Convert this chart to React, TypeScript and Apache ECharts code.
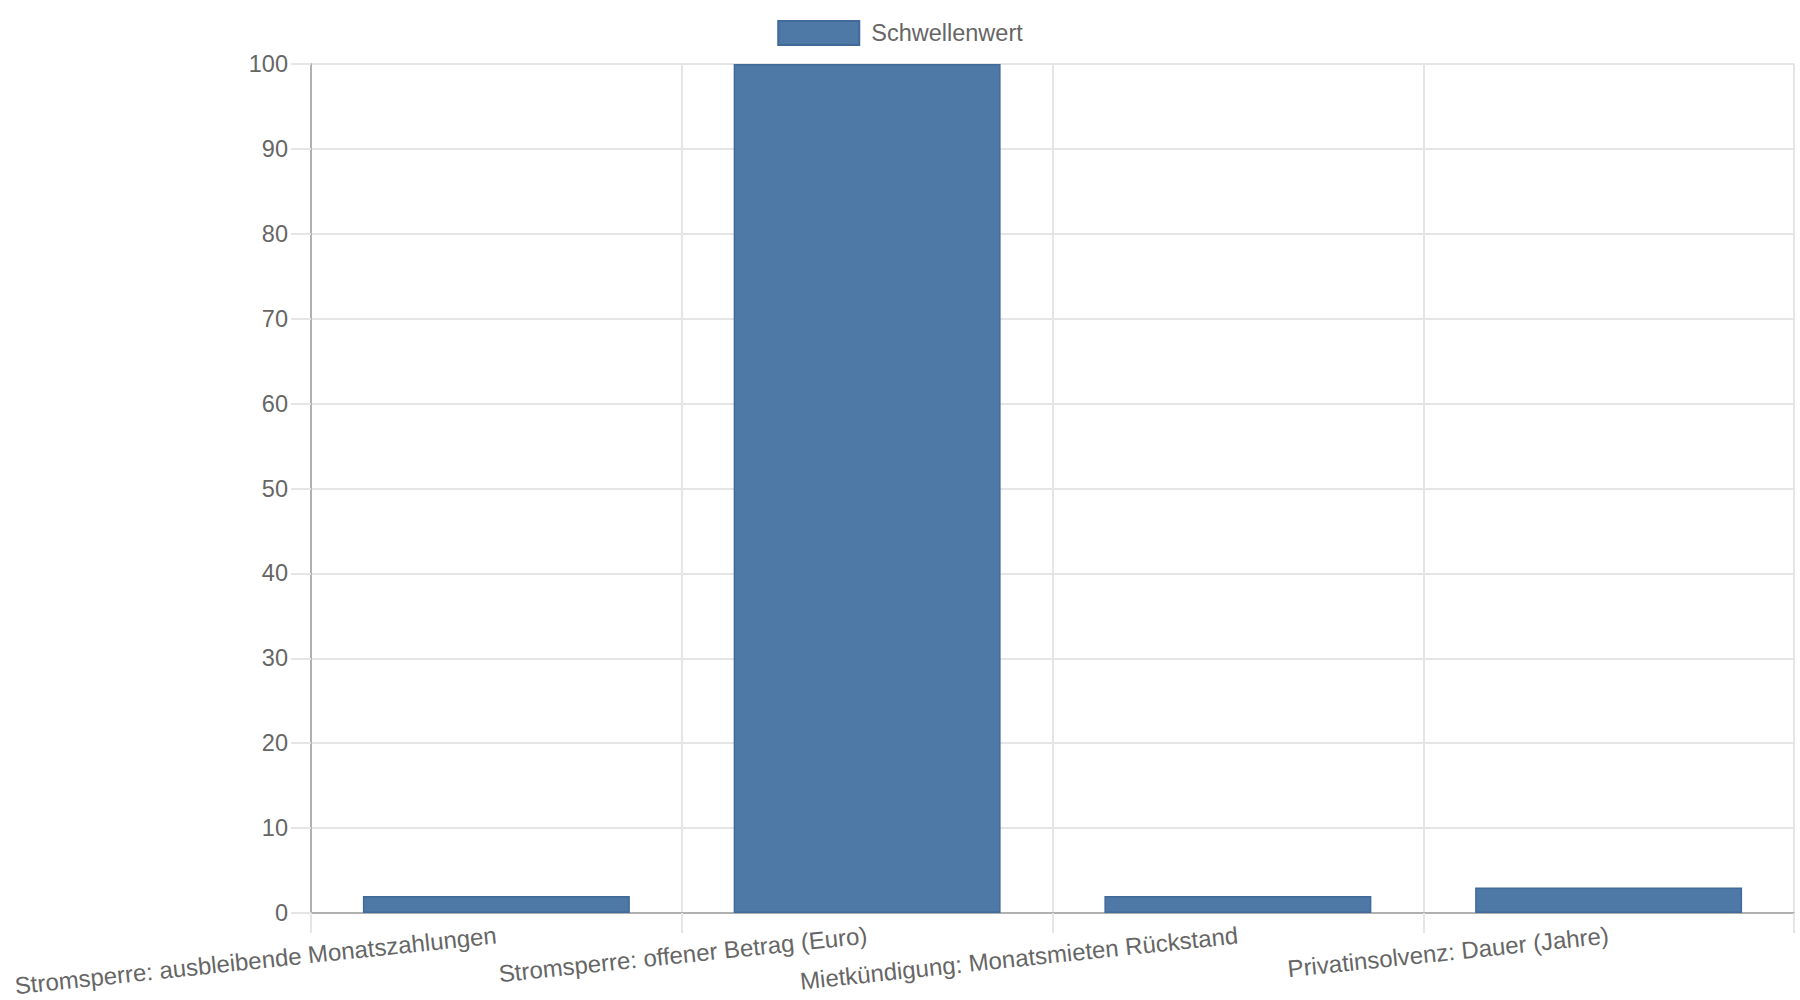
import * as echarts from 'echarts';
import { useEffect, useRef } from 'react';

// Daten
const categories = [
  'Stromsperre: ausbleibende Monatszahlungen',
  'Stromsperre: offener Betrag (Euro)',
  'Mietkündigung: Monatsmieten Rückstand',
  'Privatinsolvenz: Dauer (Jahre)',
];
const thresholdValues = [2, 100, 2, 3];
const seriesName = 'Schwellenwert';

const FONT = 'Liberation Sans, Arial, sans-serif';
const TEXT = '#666666';
const GRID = '#e5e5e5';
const AXIS = '#b0b0b0';

const getOptions = (): echarts.EChartsOption => ({
  animation: false,
  textStyle: { fontFamily: FONT },
  legend: {
    data: [seriesName],
    top: 15,
    left: 'center',
    icon: 'rect',
    itemWidth: 81,
    itemHeight: 24,
    textStyle: {
      fontFamily: FONT,
      fontSize: 23.5,
      color: TEXT,
      padding: [0, 0, 0, 7],
    },
  },
  grid: {
    left: 311,
    right: 6,
    top: 64,
    bottom: 87,
    containLabel: false,
  },
  xAxis: {
    type: 'category',
    data: categories,
    axisLine: { lineStyle: { color: AXIS, width: 2 } },
    axisTick: { show: true, length: 20, lineStyle: { color: GRID, width: 2 } },
    splitLine: { show: true, interval: 0, lineStyle: { color: GRID, width: 2 } },
    axisLabel: {
      interval: 0,
      rotate: 6,
      margin: 22,
      fontFamily: FONT,
      fontSize: 24,
      color: TEXT,
    },
  },
  yAxis: {
    type: 'value',
    min: 0,
    max: 100,
    interval: 10,
    axisLine: { show: true, lineStyle: { color: AXIS, width: 2 } },
    axisTick: { show: true, length: 20, lineStyle: { color: GRID, width: 2 } },
    splitLine: { show: true, lineStyle: { color: GRID, width: 2 } },
    axisLabel: {
      margin: 23,
      fontFamily: FONT,
      fontSize: 23.5,
      color: TEXT,
    },
  },
  series: [
    {
      name: seriesName,
      type: 'bar',
      data: thresholdValues,
      barWidth: '72%',
      itemStyle: {
        color: '#4e79a7',
        borderColor: '#41699a',
        borderWidth: 1.5,
      },
    },
  ],
});

export default function App() {
  const chartRef = useRef<HTMLDivElement>(null);

  useEffect(() => {
    if (!chartRef.current) return;
    const chart = echarts.init(chartRef.current, undefined, { renderer: 'svg' });
    chart.setOption(getOptions());
    return () => {
      chart.dispose();
    };
  }, []);

  return (
    <div
      ref={chartRef}
      style={{
        position: 'fixed',
        left: 0,
        top: 0,
        width: 1800,
        height: 1000,
        background: '#ffffff',
      }}
    />
  );
}
